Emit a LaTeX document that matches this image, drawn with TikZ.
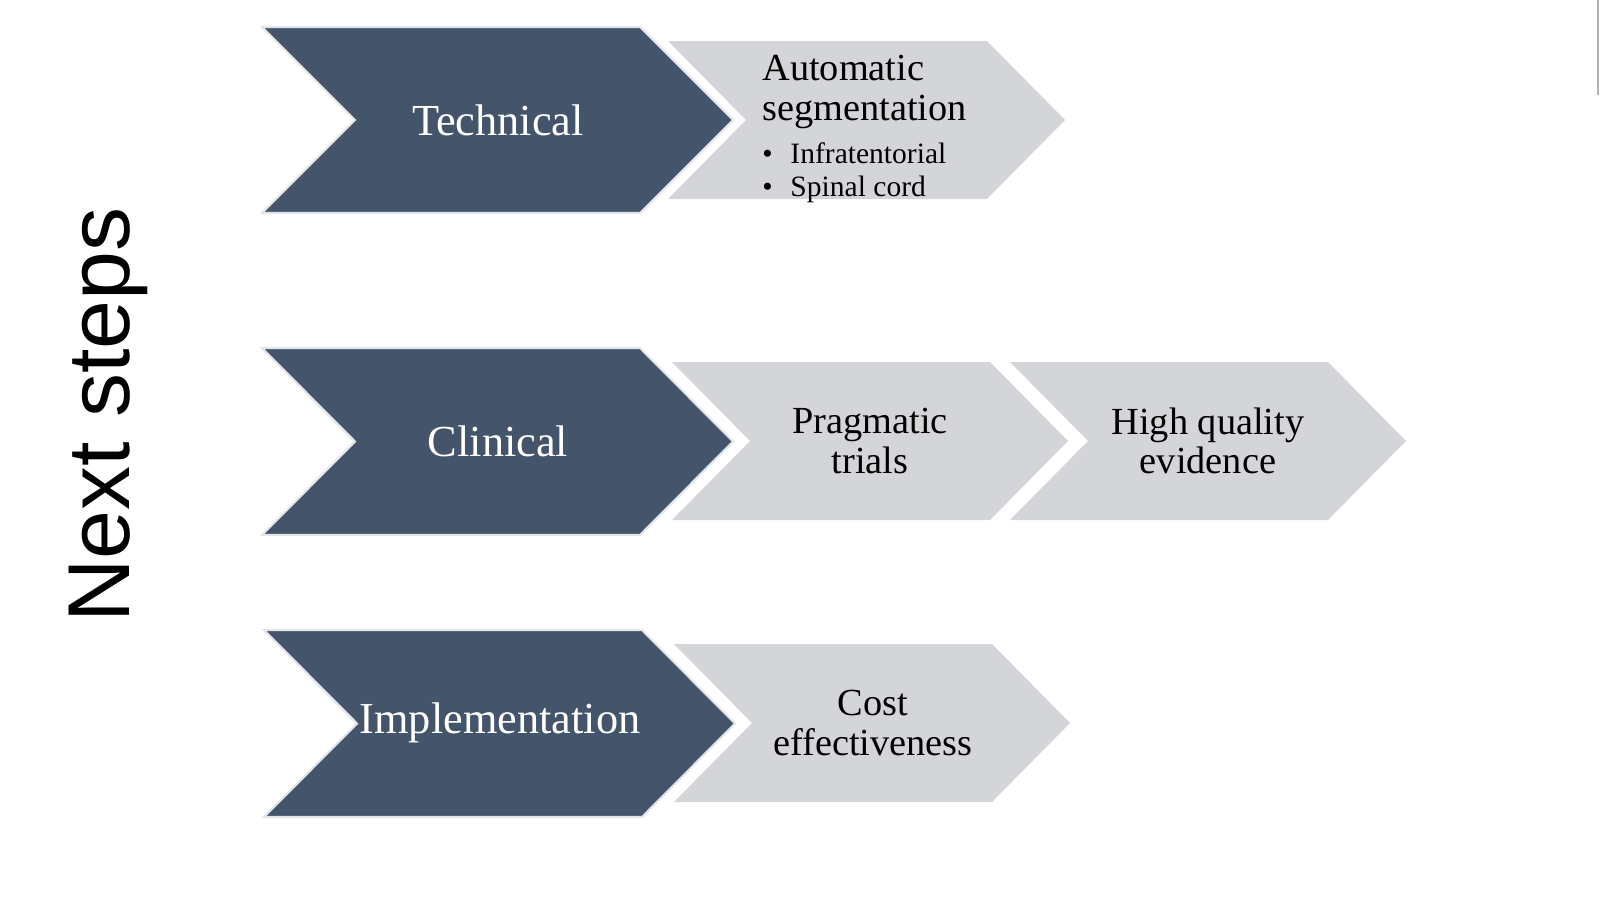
\documentclass[tikz,border=0pt]{standalone}
\usepackage{fontspec}
\setmainfont{Liberation Serif}
\setsansfont{Liberation Sans}
\definecolor{slate}{HTML}{44546A}
\definecolor{mist}{HTML}{D4D5D8}
% chevron: left x, top y, right x (of flat part), bottom y, point depth
\newcommand{\chev}[6]{%
  \draw[#6] (#1,#2) -- (#3,#2) -- (#3+#5,{(#2+#4)/2}) -- (#3,#4) -- (#1,#4) -- (#1+#5,{(#2+#4)/2}) -- cycle;}
\tikzset{
  dark/.style={fill=slate, draw=white!85!slate, line width=0.6pt},
  light/.style={fill=mist, draw=none},
  head/.style={text=white, font=\fontsize{12.6}{14}\selectfont},
  stage/.style={align=center, font=\fontsize{10.9}{11.3}\selectfont},
  bullet/.style={anchor=west, font=\fontsize{8.4}{9}\selectfont},
}
\begin{document}
\begin{tikzpicture}[x=0.01cm, y=-0.01cm]
  \useasboundingbox (0,0) rectangle (1600,900);
  \draw[gray!60] (1598,0) -- (1598,95);
  % left column
  \node[font=\sffamily\fontsize{25}{25}\selectfont, rotate=90] (title) at (108,415) {Next steps};
  % technical
  \chev{262}{27}{640}{213}{93}{dark}
  \chev{668}{41}{987}{199}{78}{light}
  \node[head] (tech) at (498,120) {Technical};
  \node[stage, align=left, anchor=north west] (seg) at (750,43) {Automatic\\segmentation};
  \node[bullet] (infra) at (750,153) {\textbullet\hspace{0.6em}Infratentorial};
  \node[bullet] (spine) at (750,189) {\textbullet\hspace{0.6em}Spinal cord};
  % clinical
  \chev{262}{348}{640}{535}{93}{dark}
  \chev{672}{362}{990}{520}{78}{light}
  \chev{1010}{362}{1328}{520}{78}{light}
  \node[head] (clin) at (498,441) {Clinical};
  \node[stage] (prag) at (870,441) {Pragmatic\\trials};
  \node[stage] (evid) at (1208,441) {High quality\\evidence};
  % implementation
  \chev{264}{630}{642}{817}{93}{dark}
  \chev{674}{644}{992}{802}{78}{light}
  \node[head] (impl) at (500,723) {Implementation};
  \node[stage] (cost) at (873,723) {Cost\\effectiveness};
\end{tikzpicture}
\end{document}
